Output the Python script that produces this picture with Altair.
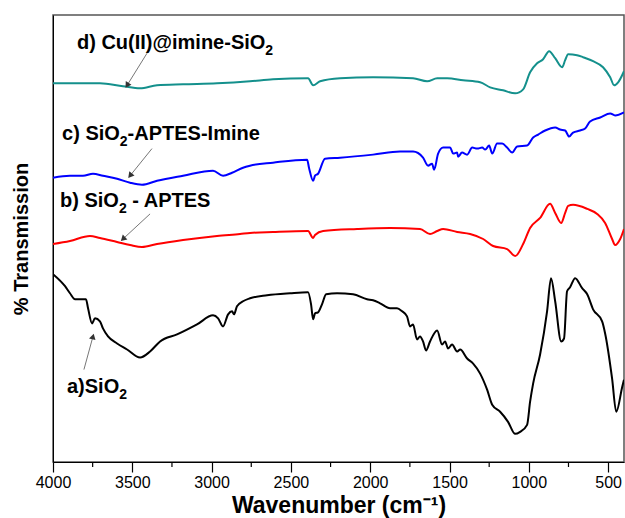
import altair as alt
import pandas as pd

# ---- data (wavenumber cm^-1, relative transmission) ----
a_wn = [4000, 3924, 3893, 3861, 3811, 3792, 3779, 3754, 3735, 3704, 3685, 3653, 3596, 3533, 3451, 3388, 3325, 3218, 3092, 2991, 2959, 2928, 2896, 2871, 2859, 2840, 2802, 2758, 2650, 2505, 2392, 2373, 2360, 2348, 2329, 2304, 2278, 2209, 2108, 2020, 1982, 1938, 1875, 1831, 1799, 1768, 1749, 1730, 1705, 1686, 1667, 1648, 1623, 1578, 1547, 1528, 1509, 1484, 1452, 1433, 1389, 1351, 1307, 1263, 1231, 1181, 1131, 1086, 1055, 1011, 992, 973, 929, 885, 860, 834, 796, 778, 759, 740, 708, 664, 632, 595, 538, 519, 475, 449, 411, 400]
a_t = [187, 175, 168, 162, 162, 162, 153, 138, 143, 140, 133, 125, 118, 112, 104, 110, 120, 127, 137, 146, 143, 135, 147, 150, 147, 155, 160, 163, 166, 168, 169, 157, 142, 148, 149, 157, 167, 168, 167, 162, 161, 158, 153, 153, 150, 145, 135, 137, 122, 125, 120, 111, 120, 131, 117, 120, 113, 117, 110, 112, 103, 98, 88, 72, 57, 50, 40, 28, 30, 37, 60, 78, 107, 150, 183, 160, 120, 123, 170, 174, 183, 173, 167, 152, 140, 128, 83, 50, 75, 82]

b_wn = [4000, 3893, 3767, 3704, 3596, 3514, 3439, 3344, 3180, 2966, 2821, 2758, 2613, 2392, 2360, 2348, 2297, 2083, 1875, 1686, 1623, 1578, 1540, 1452, 1370, 1288, 1225, 1137, 1086, 1036, 992, 929, 866, 834, 796, 771, 752, 721, 632, 569, 519, 475, 456, 424, 400]
b_t = [217, 220, 225, 223, 219, 216, 214, 217, 221, 225, 227, 228, 229, 230, 223, 226, 230, 232, 233, 232, 227, 230, 232, 229, 227, 222, 215, 212, 205, 217, 233, 243, 257, 248, 238, 248, 255, 256, 252, 247, 238, 222, 216, 222, 232]

c_wn = [4000, 3893, 3811, 3748, 3685, 3596, 3514, 3439, 3344, 3180, 2991, 2928, 2871, 2802, 2758, 2613, 2398, 2386, 2360, 2348, 2329, 2285, 2190, 1982, 1812, 1730, 1667, 1635, 1610, 1597, 1572, 1540, 1496, 1477, 1452, 1446, 1421, 1389, 1357, 1326, 1294, 1275, 1250, 1231, 1200, 1168, 1137, 1105, 1074, 1011, 973, 941, 897, 834, 803, 771, 746, 721, 677, 645, 614, 550, 487, 456, 400]
c_t = [283, 285, 285, 287, 285, 282, 278, 276, 280, 285, 290, 285, 288, 293, 295, 298, 301, 293, 280, 285, 287, 302, 303, 306, 309, 309, 303, 295, 297, 291, 307, 313, 313, 307, 308, 304, 308, 306, 313, 312, 313, 311, 315, 307, 317, 317, 313, 308, 314, 315, 323, 326, 330, 333, 331, 330, 324, 328, 330, 332, 339, 343, 347, 345, 348]

d_wn = [4000, 3811, 3704, 3559, 3451, 3344, 3180, 2966, 2758, 2613, 2392, 2360, 2316, 2190, 1982, 1730, 1641, 1578, 1515, 1414, 1307, 1244, 1162, 1086, 1036, 992, 948, 910, 872, 834, 790, 771, 752, 696, 658, 595, 532, 487, 462, 437, 400]
d_t = [377, 377, 377, 374, 372, 375, 376, 377, 379, 381, 382, 375, 379, 382, 383, 382, 379, 382, 382, 380, 378, 373, 370, 367, 371, 388, 397, 401, 409, 402, 393, 400, 406, 405, 403, 399, 393, 383, 375, 378, 389]

series_names = ["a", "b", "c", "d"]
series_colors = ["#000000", "#ff0000", "#0000ff", "#14908c"]

x_ticks = [4000, 3500, 3000, 2500, 2000, 1500, 1000, 500]
x_minor = [3750, 3250, 2750, 2250, 1750, 1250, 750]

# label pieces: text before subscript, subscript, text after
label_pre = ["d) Cu(II)@imine-SiO", "c) SiO", "b) SiO", "a)SiO"]
label_sub = ["2", "2", "2", "2"]
label_post = ["", "-APTES-Imine", " - APTES", ""]
label_wn = [3849, 3943, 3956, 3912]
label_t = [417, 327, 260, 75]

arrow_wn = [3407, 3376, 3388, 3805]
arrow_t = [407, 312, 247, 92]
arrow_wn2 = [3533, 3514, 3559, 3748]
arrow_t2 = [375, 285, 222, 125]
arrow_angle = [212, 219, 227, 15]

# ---- layout helpers ----
W, H = 571, 447
X_MIN, X_MAX = 400, 4000
CM_PER_PX = (X_MAX - X_MIN) / W
MAIN_SIZE, SUB_SIZE = 20, 14
ARIAL_BOLD = {" ": 278, ")": 333, "(": 333, "-": 333, "@": 975, "a": 556, "b": 611, "c": 556,
              "d": 611, "e": 556, "i": 278, "m": 889, "n": 611, "u": 611, "A": 722, "C": 722,
              "E": 667, "I": 278, "O": 778, "P": 667, "S": 667, "T": 611, "2": 556}


def text_w(s, size):
    return sum(ARIAL_BOLD.get(ch, 600) for ch in s) * size / 1000.0


rows = []
for name, wn, t in zip(series_names, [a_wn, b_wn, c_wn, d_wn], [a_t, b_t, c_t, d_t]):
    for w, v in zip(wn, t):
        rows.append({"series": name, "wn": w, "t": v})
spec = pd.DataFrame(rows)

main_rows, sub_rows = [], []
for pre, sub, post, w0, t0 in zip(label_pre, label_sub, label_post, label_wn, label_t):
    main_rows.append({"txt": pre, "wn": w0, "t": t0})
    w1 = w0 - text_w(pre, MAIN_SIZE) * CM_PER_PX
    sub_rows.append({"txt": sub, "wn": w1, "t": t0})
    if post:
        lead = len(post) - len(post.lstrip(" "))
        w2 = w1 - (text_w(sub, SUB_SIZE) + text_w(" " * lead, MAIN_SIZE)) * CM_PER_PX
        main_rows.append({"txt": post.lstrip(" "), "wn": w2, "t": t0})
lab_main = pd.DataFrame(main_rows)
lab_sub = pd.DataFrame(sub_rows)

arr = pd.DataFrame({"wn": arrow_wn, "t": arrow_t, "wn2": arrow_wn2, "t2": arrow_t2, "angle": arrow_angle})
minor = pd.DataFrame({"wn": x_minor})

FONT = "Liberation Sans"
xscale = alt.Scale(domain=[X_MIN, X_MAX], reverse=True, nice=False, zero=False)
yscale = alt.Scale(domain=[0, 445], nice=False, zero=False)

lines = alt.Chart(spec).mark_line(strokeWidth=2, clip=True, interpolate="monotone").encode(
    x=alt.X("wn:Q", scale=xscale,
            axis=alt.Axis(values=x_ticks, format="d", title="Wavenumber (cm\u207B\u00B9)", grid=False,
                          tickSize=10, tickColor="#000", domainColor="#000", tickWidth=1.2,
                          labelFontSize=16, labelFont=FONT, labelColor="#000", labelPadding=2,
                          titleFontSize=23, titleFont=FONT, titleFontWeight="bold",
                          titleColor="#000", titlePadding=4, labelFlush=False)),
    y=alt.Y("t:Q", scale=yscale,
            axis=alt.Axis(labels=False, ticks=False, grid=False, title="% Transmission",
                          domainColor="#000", titleFontSize=20, titleFont=FONT,
                          titleFontWeight="bold", titleColor="#000", titlePadding=22)),
    color=alt.Color("series:N", scale=alt.Scale(domain=series_names, range=series_colors), legend=None),
    detail="series:N",
)

minor_ticks = alt.Chart(minor).mark_rule(color="#000", strokeWidth=1.2).encode(
    x=alt.X("wn:Q", scale=xscale),
    y=alt.value(H),
    y2=alt.value(H + 5),
)

texts_main = alt.Chart(lab_main).mark_text(align="left", baseline="middle", fontSize=MAIN_SIZE,
                                           fontWeight="bold", font=FONT, color="#000").encode(
    x=alt.X("wn:Q", scale=xscale),
    y=alt.Y("t:Q", scale=yscale),
    text="txt:N",
)

texts_sub = alt.Chart(lab_sub).mark_text(align="left", baseline="middle", fontSize=SUB_SIZE,
                                         fontWeight="bold", font=FONT, color="#000", dy=8).encode(
    x=alt.X("wn:Q", scale=xscale),
    y=alt.Y("t:Q", scale=yscale),
    text="txt:N",
)

arrow_lines = alt.Chart(arr).mark_rule(color="#777", strokeWidth=1).encode(
    x=alt.X("wn:Q", scale=xscale), y=alt.Y("t:Q", scale=yscale),
    x2="wn2:Q", y2="t2:Q",
)

arrow_heads = alt.Chart(arr).mark_point(shape="triangle-up", filled=True, size=45,
                                        color="#333", opacity=1).encode(
    x=alt.X("wn2:Q", scale=xscale), y=alt.Y("t2:Q", scale=yscale),
    angle=alt.Angle("angle:Q", scale=None),
)

chart = alt.layer(lines, minor_ticks, arrow_lines, arrow_heads, texts_main, texts_sub).properties(
    width=W, height=H,
    padding={"left": 53, "top": 15, "right": 1, "bottom": 56},
    autosize=alt.AutoSizeParams(type="none"),
    background="white",
).configure_view(stroke="#555", strokeWidth=1.5)

chart.save("out.html", embed_options={"renderer": "svg", "actions": False})
